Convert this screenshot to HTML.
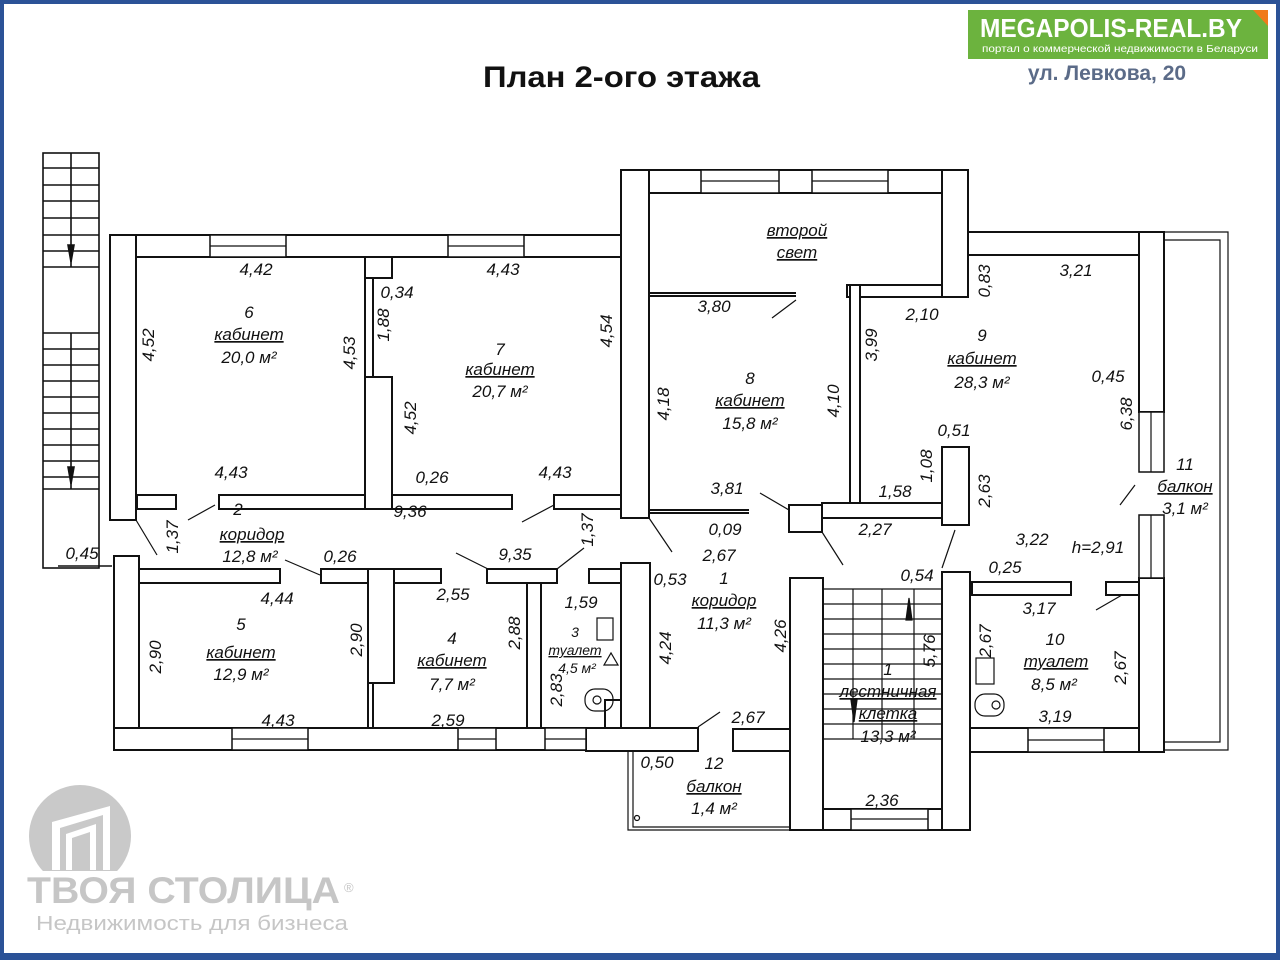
<!DOCTYPE html>
<html><head><meta charset="utf-8"><style>
html,body{margin:0;padding:0;background:#fff}
#w{position:relative;width:1280px;height:960px;overflow:hidden;background:#fff}
svg text{font-family:"Liberation Sans","DejaVu Sans",sans-serif}
</style></head><body><div id="w">
<svg width="1280" height="960" viewBox="0 0 1280 960" xmlns="http://www.w3.org/2000/svg">
<rect x="2" y="2" width="1276" height="956" fill="none" stroke="#2b5297" stroke-width="4"/>
<rect x="0" y="953" width="1280" height="7" fill="#2b5297"/>

<text x="483" y="87" font-size="30" font-weight="bold" fill="#111" textLength="277" lengthAdjust="spacingAndGlyphs">План 2-ого этажа</text>
<rect x="968" y="10" width="300" height="49" fill="#6cb33e"/>
<polygon points="1253,10 1268,10 1268,26" fill="#f07a1a"/>
<text x="980" y="37" font-size="26" font-weight="bold" fill="#fff" textLength="262" lengthAdjust="spacingAndGlyphs">MEGAPOLIS-REAL.BY</text>
<text x="982" y="52" font-size="10.5" fill="#fff" textLength="276" lengthAdjust="spacingAndGlyphs">портал о коммерческой недвижимости в Беларуси</text>
<text x="1107" y="80" font-size="21" font-weight="bold" text-anchor="middle" fill="#5b6b88">ул. Левкова, 20</text>

<clipPath id="cc"><rect x="0" y="780" width="200" height="91"/></clipPath>
<circle cx="80" cy="836" r="51" fill="#c9c9c9" clip-path="url(#cc)"/>
<g fill="#fff"><polygon points="52,870 52,822 110,806 110,870 103,870 103,815 60,828 60,870"/><polygon points="66,870 66,834 96,824 96,870 90,870 90,832 72,838 72,870"/></g>
<text x="27" y="903" font-size="37" font-weight="bold" fill="#c6c6c6" textLength="313" lengthAdjust="spacingAndGlyphs">ТВОЯ СТОЛИЦА</text>
<text x="344" y="892" font-size="13" fill="#c6c6c6">®</text>
<text x="36" y="930" font-size="20" fill="#c6c6c6" textLength="312" lengthAdjust="spacingAndGlyphs">Недвижимость для бизнеса</text>

<g stroke="#111" stroke-width="1.6" fill="none">
<rect x="43" y="153" width="56" height="415"/>
<path d="M43 168H99M43 185H99M43 201H99M43 218H99M43 235H99M43 251H99M43 267H99M71 153V267"/>
<path d="M43 333H99M43 349H99M43 365H99M43 381H99M43 397H99M43 413H99M43 429H99M43 445H99M43 461H99M43 477H99M43 489H99M71 333V489"/>
<path d="M68 245L71 262L74 245Z M68 467L71 484L74 467Z" fill="#111"/>
<path d="M58 566H112"/>
</g>

<g fill="#fff" stroke="#111" stroke-width="2">
<rect x="110" y="235" width="512" height="22"/>
<rect x="110" y="235" width="26" height="285"/>
<rect x="137" y="495" width="39" height="14"/>
<rect x="219" y="495" width="146" height="14"/>
<rect x="365" y="257" width="27" height="21"/>
<rect x="365" y="278" width="8" height="99"/>
<rect x="365" y="377" width="27" height="132"/>
<rect x="392" y="495" width="120" height="14"/>
<rect x="554" y="495" width="67" height="14"/>
<rect x="114" y="556" width="25" height="194"/>
<rect x="114" y="728" width="510" height="22"/>
<rect x="139" y="569" width="141" height="14"/>
<rect x="321" y="569" width="120" height="14"/>
<rect x="368" y="569" width="26" height="114"/>
<rect x="368" y="683" width="5" height="45"/>
<rect x="487" y="569" width="70" height="14"/>
<rect x="527" y="583" width="14" height="145"/>
<rect x="589" y="569" width="34" height="14"/>
<rect x="605" y="700" width="18" height="28"/>
<rect x="621" y="170" width="347" height="23"/>
<rect x="621" y="170" width="28" height="348"/>
<rect x="942" y="170" width="26" height="127"/>
<rect x="968" y="232" width="196" height="23"/>
<rect x="1139" y="232" width="25" height="180"/>
<rect x="847" y="285" width="95" height="12"/>
<rect x="850" y="285" width="10" height="218"/>
<rect x="942" y="447" width="27" height="78"/>
<rect x="822" y="503" width="120" height="15"/>
<rect x="789" y="505" width="33" height="27"/>
<rect x="621" y="563" width="29" height="188"/>
<rect x="586" y="728" width="112" height="23"/>
<rect x="790" y="578" width="33" height="252"/>
<rect x="733" y="729" width="57" height="22"/>
<rect x="823" y="809" width="120" height="21"/>
<rect x="942" y="572" width="28" height="258"/>
<rect x="970" y="728" width="194" height="24"/>
<rect x="972" y="582" width="99" height="13"/>
<rect x="1106" y="582" width="33" height="13"/>
<rect x="1139" y="578" width="25" height="174"/>
</g>
<g fill="#fff" stroke="#111" stroke-width="1.5">
<rect x="210" y="235" width="76" height="22"/><rect x="448" y="235" width="76" height="22"/>
<rect x="232" y="728" width="76" height="22"/><rect x="458" y="728" width="38" height="22"/><rect x="545" y="728" width="41" height="22"/>
<rect x="701" y="170" width="78" height="23"/><rect x="812" y="170" width="76" height="23"/>
<rect x="1139" y="412" width="25" height="60"/><rect x="1139" y="515" width="25" height="63"/>
<rect x="851" y="809" width="77" height="21"/><rect x="1028" y="728" width="76" height="24"/>
</g>
<g stroke="#111" stroke-width="1.2" fill="none">
<path d="M210 246H286M448 246H524M232 739H308M458 739H496M545 739H586M701 181H779M812 181H888M851 819H928M1028 740H1104M1151 412V472M1151 515V578"/>
<path d="M1164 232H1228V750H1164M1164 240H1220V742H1164"/>
<path d="M628 751V830H798M633 752V827H790"/>
<circle cx="637" cy="818" r="2.5"/>
<path d="M649 293H796M649 296H796M649 510H749M649 513H749" stroke-width="2"/>
<path d="M823 589H942M823 604H942M823 619H942M823 634H942M823 649H942M823 664H942M823 679H942M823 694H942M823 709H942M823 724H942M823 739H942M853 589V739M882 589V739M914 589V739"/>
<path d="M906 620L909 598L912 620Z M851 700L854 722L857 700Z" fill="#111"/>
<path d="M136 520L157 555M215 505L188 520M554 505L522 522M649 518L672 552M796 300L772 318M822 532L843 565M955 530L942 568M1135 485L1120 505M1122 595L1096 610M456 553L488 569M584 548L557 569M285 560L320 575M720 712L698 727M760 493L789 510"/>
<rect x="597" y="618" width="16" height="22"/><rect x="585" y="689" width="28" height="22" rx="10"/><circle cx="597" cy="700" r="4"/>
<path d="M604 665L611 653L618 665Z"/>
<rect x="976" y="658" width="18" height="26"/><rect x="975" y="694" width="29" height="22" rx="10"/><circle cx="996" cy="705" r="4"/>
</g>

<g font-size="17" font-style="italic" fill="#111" text-anchor="middle">
<text x="249" y="318">6</text><text x="249" y="340" text-decoration="underline">кабинет</text><text x="249" y="363">20,0 м²</text>
<text x="500" y="355">7</text><text x="500" y="375" text-decoration="underline">кабинет</text><text x="500" y="397">20,7 м²</text>
<text x="750" y="384">8</text><text x="750" y="406" text-decoration="underline">кабинет</text><text x="750" y="429">15,8 м²</text>
<text x="982" y="341">9</text><text x="982" y="364" text-decoration="underline">кабинет</text><text x="982" y="388">28,3 м²</text>
<text x="241" y="630">5</text><text x="241" y="658" text-decoration="underline">кабинет</text><text x="241" y="680">12,9 м²</text>
<text x="452" y="644">4</text><text x="452" y="666" text-decoration="underline">кабинет</text><text x="452" y="690">7,7 м²</text>
<text x="238" y="515">2</text><text x="252" y="540" text-decoration="underline">коридор</text><text x="250" y="562">12,8 м²</text>
<text x="724" y="584">1</text><text x="724" y="606" text-decoration="underline">коридор</text><text x="724" y="629">11,3 м²</text>
<text x="1055" y="645">10</text><text x="1056" y="667" text-decoration="underline">туалет</text><text x="1054" y="690">8,5 м²</text>
<text x="1185" y="470">11</text><text x="1185" y="492" text-decoration="underline">балкон</text><text x="1185" y="514">3,1 м²</text>
<text x="714" y="769">12</text><text x="714" y="792" text-decoration="underline">балкон</text><text x="714" y="814">1,4 м²</text>
<text x="888" y="675">1</text><text x="888" y="697" text-decoration="underline">лестничная</text><text x="888" y="719" text-decoration="underline">клетка</text><text x="888" y="742">13,3 м²</text>
<text x="797" y="236" text-decoration="underline">второй</text><text x="797" y="258" text-decoration="underline">свет</text>
<g font-size="14"><text x="575" y="637">3</text><text x="575" y="655" text-decoration="underline">туалет</text><text x="577" y="673">4,5 м²</text></g>
<text x="256" y="275">4,42</text><text x="503" y="275">4,43</text><text x="397" y="298">0,34</text>
<text x="231" y="478">4,43</text><text x="432" y="483">0,26</text><text x="555" y="478">4,43</text>
<text x="410" y="517">9,36</text><text x="515" y="560">9,35</text><text x="340" y="562">0,26</text>
<text x="277" y="604">4,44</text><text x="453" y="600">2,55</text><text x="581" y="608">1,59</text>
<text x="278" y="726">4,43</text><text x="448" y="726">2,59</text>
<text x="714" y="312">3,80</text><text x="922" y="320">2,10</text><text x="1076" y="276">3,21</text>
<text x="1108" y="382">0,45</text><text x="954" y="436">0,51</text><text x="895" y="497">1,58</text>
<text x="727" y="494">3,81</text><text x="725" y="535">0,09</text><text x="719" y="561">2,67</text>
<text x="875" y="535">2,27</text><text x="1032" y="545">3,22</text><text x="1098" y="553">h=2,91</text>
<text x="670" y="585">0,53</text><text x="917" y="581">0,54</text><text x="1005" y="573">0,25</text>
<text x="1039" y="614">3,17</text><text x="1055" y="722">3,19</text><text x="748" y="723">2,67</text>
<text x="657" y="768">0,50</text><text x="882" y="806">2,36</text><text x="82" y="559">0,45</text>
</g>
<g font-size="17" font-style="italic" fill="#111" text-anchor="middle">
<text transform="translate(154,345) rotate(-90)">4,52</text>
<text transform="translate(355,353) rotate(-90)">4,53</text>
<text transform="translate(389,325) rotate(-90)">1,88</text>
<text transform="translate(416,418) rotate(-90)">4,52</text>
<text transform="translate(612,331) rotate(-90)">4,54</text>
<text transform="translate(178,537) rotate(-90)">1,37</text>
<text transform="translate(593,530) rotate(-90)">1,37</text>
<text transform="translate(669,404) rotate(-90)">4,18</text>
<text transform="translate(839,401) rotate(-90)">4,10</text>
<text transform="translate(877,345) rotate(-90)">3,99</text>
<text transform="translate(990,281) rotate(-90)">0,83</text>
<text transform="translate(1132,414) rotate(-90)">6,38</text>
<text transform="translate(932,466) rotate(-90)">1,08</text>
<text transform="translate(990,491) rotate(-90)">2,63</text>
<text transform="translate(161,657) rotate(-90)">2,90</text>
<text transform="translate(362,640) rotate(-90)">2,90</text>
<text transform="translate(520,633) rotate(-90)">2,88</text>
<text transform="translate(562,690) rotate(-90)">2,83</text>
<text transform="translate(671,648) rotate(-90)">4,24</text>
<text transform="translate(786,636) rotate(-90)">4,26</text>
<text transform="translate(935,651) rotate(-90)">5,76</text>
<text transform="translate(991,641) rotate(-90)">2,67</text>
<text transform="translate(1126,668) rotate(-90)">2,67</text>
</g>
</svg>
</div></body></html>
